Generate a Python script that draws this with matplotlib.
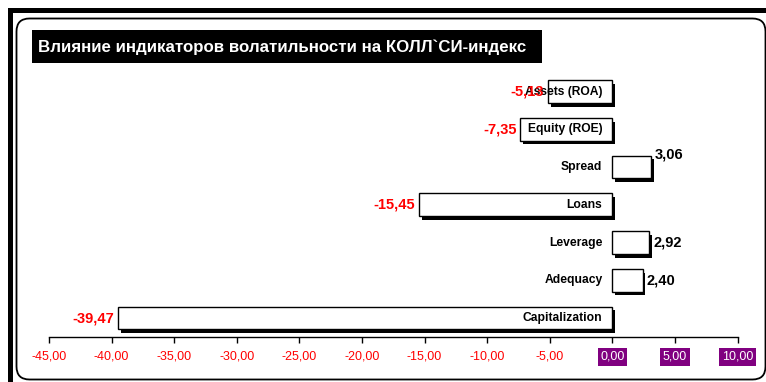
import matplotlib
matplotlib.use("Agg")
import matplotlib.pyplot as plt
import matplotlib.patheffects as pe
from matplotlib.patches import FancyBboxPatch, Rectangle
from matplotlib.transforms import IdentityTransform

plt.rcParams['font.family'] = ['Liberation Sans', 'DejaVu Sans']

# Chart data (bottom to top)
categories = ["Capitalization", "Adequacy", "Leverage", "Loans",
              "Spread", "Equity (ROE)", "Assets (ROA)"]
values = [-39.47, 2.40, 2.92, -15.45, 3.06, -7.35, -5.13]
tick_values = [-45, -40, -35, -30, -25, -20, -15, -10, -5, 0, 5, 10]
title = "Влияние индикаторов волатильности на КОЛЛ`СИ-индекс"

W, H = 766, 382
fig = plt.figure(figsize=(W / 100, H / 100), dpi=100)
fig.patch.set_facecolor("white")

def fx(x):
    return x / W

def fy(y):
    return 1 - y / H

# Outer heavy border (top and left)
fig.add_artist(Rectangle((8, H - 13), W, 5, transform=IdentityTransform(),
                         facecolor="black", edgecolor="none"))
fig.add_artist(Rectangle((8, 0), 5, H - 8, transform=IdentityTransform(),
                         facecolor="black", edgecolor="none"))
# Inner rounded frame
fig.add_artist(FancyBboxPatch((16.5, H - 379.5), 749, 361,
                              boxstyle="round,pad=0,rounding_size=13",
                              transform=IdentityTransform(),
                              facecolor="none", edgecolor="black", lw=1.3))

# Title box
fig.add_artist(Rectangle((32, H - 63), 510, 33, transform=IdentityTransform(),
                         facecolor="black", edgecolor="none"))
fig.text(fx(38), fy(47), title, color="white", fontsize=12.2,
         fontweight="bold", ha="left", va="center")

# Plot area
x0, x1 = 48.9, 737.7
ax_bottom, ax_top = 337, 70
ax = fig.add_axes([fx(x0), fy(ax_bottom), (x1 - x0) / W, (ax_bottom - ax_top) / H])
ax.set_facecolor("none")
ax.set_xlim(-45, 10)
ax.set_ylim(-0.503, 6.57)

ypos = list(range(len(categories)))
shadow = [pe.SimplePatchShadow(offset=(2.0, -2.7), shadow_rgbFace="black", alpha=1.0),
          pe.Normal()]
bars = ax.barh(ypos, values, height=0.6, color="white", edgecolor="black",
               linewidth=1.0, zorder=3)
for b in bars:
    b.set_path_effects(shadow)

for y, v, name in zip(ypos, values, categories):
    # category name just left of the zero line
    ax.annotate(name, (0, y), xytext=(-10, 0), textcoords="offset pixels",
                ha="right", va="center", fontsize=8.7, fontweight="bold",
                color="black", zorder=5)
    label = f"{v:.2f}".replace(".", ",")
    if v < 0:
        ax.annotate(label, (v, y), xytext=(-4, 0), textcoords="offset pixels",
                    ha="right", va="center", fontsize=10.5, fontweight="bold",
                    color="#FF0000", zorder=6)
    else:
        dy = 13 if name == "Spread" else 0
        ax.annotate(label, (v, y), xytext=(4, dy), textcoords="offset pixels",
                    ha="left", va="center", fontsize=10.5, fontweight="bold",
                    color="black", zorder=6)

for s in ("left", "right", "top"):
    ax.spines[s].set_visible(False)
ax.spines["bottom"].set_color("black")
ax.spines["bottom"].set_linewidth(1.0)
ax.set_yticks([])
ax.set_xticks(tick_values)
ax.set_xticklabels([f"{t:.2f}".replace(".", ",") for t in tick_values])
ax.tick_params(axis="x", direction="out", length=4, width=1, color="black",
               labelsize=9, labelcolor="#FF0000", pad=6)
for t, lbl in zip(tick_values, ax.get_xticklabels()):
    if t >= 0:
        lbl.set_color("white")
        lbl.set_bbox(dict(facecolor="#800080", edgecolor="none", pad=2))

fig.savefig("out.png", dpi=100, facecolor="white")
